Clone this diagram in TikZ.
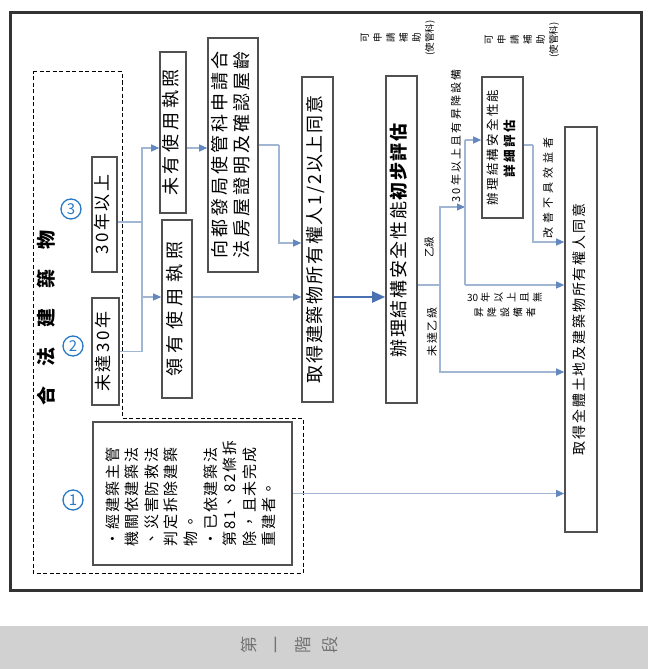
\documentclass[tikz,border=0pt]{standalone}
\usepackage{fontspec}
\setmainfont{Noto Sans CJK TC}
\usepackage{graphicx}
\usetikzlibrary{arrows.meta, positioning}

\definecolor{linec}{RGB}{160,182,210}
\definecolor{arrc}{RGB}{100,135,190}
\definecolor{mainc}{RGB}{74,114,176}
\definecolor{numc}{RGB}{40,120,200}
\definecolor{boxc}{RGB}{80,80,80}

\newcommand{\ls}[1]{\addfontfeature{LetterSpace=#1}}
\newcommand{\fsz}[2]{\fontsize{#1}{#2}\selectfont}
\newcommand{\rotc}[1]{\rotatebox{90}{\begin{tabular}{@{}c@{}}#1\end{tabular}}}
\newcommand{\rotl}[1]{\rotatebox{90}{\begin{tabular}{@{}l@{}}#1\end{tabular}}}

\begin{document}
\begin{tikzpicture}[x=1pt, y=-1pt, >={Triangle[length=8pt,width=7pt,color=arrc]},
  box/.style={draw=boxc, line width=1.6pt, fill=white, inner sep=0pt},
  conn/.style={draw=linec, line width=1.1pt},
  mainarr/.style={draw=mainc, line width=2pt, -{Triangle[length=13pt,width=11pt,color=mainc]}},
  lab/.style={inner sep=0pt},
  num/.style={circle, draw=numc, text=numc, line width=1.3pt, minimum size=20pt, inner sep=0pt, font=\fsz{15}{15}}]

\useasboundingbox (0,0) rectangle (648,669);

\fill[black!18] (0,626) rectangle (648,669);
\draw[line width=3pt, black!80] (10,13) rectangle (641,590);

\node[box, minimum width=25pt, minimum height=115pt, font=\fsz{17}{20}\ls{15}] (old) at (104.5,214.5) {\rotc{30年以上}};
\node[box, minimum width=27pt, minimum height=107pt, font=\fsz{17}{20}\ls{15}] (young) at (105.5,351.5) {\rotc{未達30年}};
\node[box, minimum width=199pt, minimum height=143pt, font=\fsz{15}{19.6}\ls{12}] (razed) at (192.5,493.5) {\rotl{・經建築主管\\機關依建築法\\、災害防救法\\判定拆除建築\\物。\\・已依建築法\\第81、82條拆\\除，且未完成\\重建者。}};
\node[box, minimum width=26pt, minimum height=161pt, font=\fsz{18}{22}\ls{21}] (nolic) at (173,132.5) {\rotc{未有使用執照}};
\node[box, minimum width=30pt, minimum height=178pt, font=\fsz{18}{22}\ls{30}] (lic) at (177,309) {\rotc{領有使用執照}};
\node[box, minimum width=50pt, minimum height=234pt, font=\fsz{18}{22}\ls{17}] (apply) at (233,155) {\rotl{向都發局使管科申請合\\法房屋證明及確認屋齡}};
\node[box, minimum width=31pt, minimum height=325pt, font=\fsz{18}{22}\ls{10}] (half) at (317.5,239.5) {\rotc{取得建築物所有權人1/2以上同意}};
\node[box, minimum width=31pt, minimum height=327pt, font=\fsz{18}{22}\ls{9}] (prelim) at (401.5,239.5) {\rotc{辦理結構安全性能\textbf{初步評估}}};
\node[box, minimum width=41pt, minimum height=141pt, font=\fsz{12.5}{17}\ls{18}] (detail) at (502.5,147.5) {\rotc{辦理結構安全性能\\\textbf{詳細評估}}};
\node[box, minimum width=32pt, minimum height=405pt, font=\fsz{14}{17}\ls{13}] (all) at (581,329.5) {\rotc{取得全體土地及建築物所有權人同意}};

\draw[dashed, line width=1pt, dash pattern=on 4pt off 2.5pt] (33,72) -- (122,72) -- (122,418) -- (303,418) -- (303,573) -- (33,573) -- cycle;

\node[font=\fsz{19}{19}\bfseries] (title) at (46,318) {\rotatebox{90}{合\hspace{20pt}法\hspace{20pt}建\hspace{20pt}築\hspace{20pt}物}};
\node[num] (n3) at (71,209) {3};
\node[num] (n2) at (73,346) {2};
\node[num] (n1) at (73,500) {1};

\coordinate (jT) at (142,222);
\coordinate (lvNo) at (0,148);
\coordinate (lvLic) at (0,297);
\coordinate (jA) at (279,145);
\coordinate (lvHalf) at (0,243);
\coordinate (jP) at (440,285);
\coordinate (jG) at (465,207);
\coordinate (jGt) at (465,140);
\coordinate (jGb) at (465,285);
\coordinate (jD) at (533,145);
\coordinate (lvImp) at (0,242);
\coordinate (lvLow) at (0,372);

\draw[conn] (old.east |- jT) -- (jT);
\draw[conn,->] (jT) |- (nolic.west |- lvNo);
\draw[conn,->] (jT) |- (lic.west |- lvLic);
\draw[conn] (young.east) -| (jT);
\draw[conn,->] (nolic.east |- lvNo) -- (apply.west |- lvNo);
\draw[conn] (apply.east |- jA) -- (jA);
\draw[conn,->] (jA) |- (half.west |- lvHalf);
\draw[conn,->] (lic.east |- lvLic) -- (half.west |- lvLic);
\draw[mainarr] (half.east |- lvLic) -- (prelim.west |- lvLic);
\draw[conn] (prelim.east |- jP) -- (jP);
\draw[conn,->] (jP) |- (jG);
\draw[conn] (jGt) -- (jGb);
\draw[conn,->] (jGt) -- (detail.west |- jGt);
\draw[conn,->] (jGb) -- (all.west |- jGb);
\draw[conn,->] (jP) |- (all.west |- lvLow);
\draw[conn] (detail.east |- jD) -- (jD);
\draw[conn,->] (jD) |- (all.west |- lvImp);
\draw[conn,->] (razed.east) -- (all.west |- razed.east);

\node[lab, font=\fsz{10.5}{12}] (lbB) at (429,247) {\rotatebox{90}{乙級}};
\node[lab, font=\fsz{11}{13}\ls{18}] (lbBelow) at (432,332) {\rotatebox{90}{未達乙級}};
\node[lab, font=\fsz{11}{13}\ls{20}] (lbLift) at (456,136) {\rotatebox{90}{30年以上且有昇降設備}};
\node[lab, rotate=90, font=\fsz{10}{13}] (lbNoLift) at (506,305) {\begin{tabular}{@{}c@{\hspace{5pt}}c@{}}\begin{tabular}[c]{@{}c@{}}昇\\降\\設\\備\\者\end{tabular} & \begin{tabular}[c]{@{}c@{}}\rotatebox[origin=c]{-90}{30}\\年\\以\\上\\且\\無\end{tabular}\end{tabular}};
\node[lab, font=\fsz{11}{13}\ls{36}] (lbImp) at (548,188) {\rotatebox{90}{改善不具效益者}};
\node[lab, rotate=90, align=center, font=\fsz{9.5}{13}] (aidA) at (398,38) {可\\申\\請\\補\\助\\(使管科)};
\node[lab, rotate=90, align=center, font=\fsz{9.5}{13}] (aidB) at (522,40) {可\\申\\請\\補\\助\\(使管科)};

\node[lab, rotate=90, align=center, font=\fsz{17}{27}, text=black!55] (stage) at (290,645) {第\\一\\階\\段};

\end{tikzpicture}
\end{document}
